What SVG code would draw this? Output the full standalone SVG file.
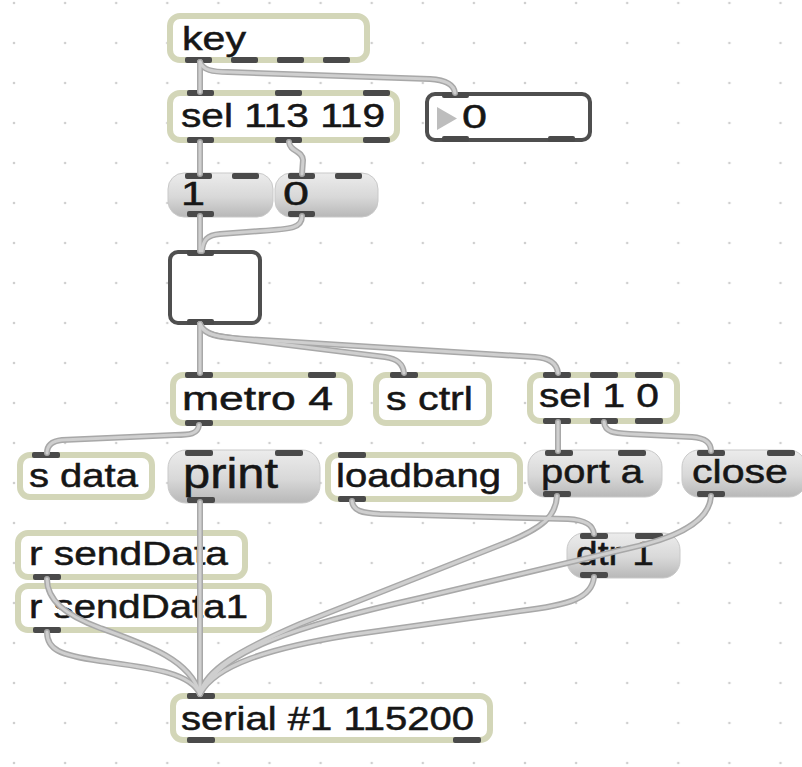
<svg xmlns="http://www.w3.org/2000/svg" xmlns:xlink="http://www.w3.org/1999/xlink" width="802" height="767" viewBox="0 0 802 767">
<style>
.obj{fill:#ffffff;stroke:#d3d6b8;stroke-width:6}
.msg{fill:url(#mg);stroke:#c9c9c9;stroke-width:1}
.ui{fill:#ffffff;stroke:#4f4f4f;stroke-width:4}
.io{fill:#4a4a4a}
.t{font-family:"Liberation Sans",Arial,sans-serif;font-size:33px;fill:#161616;stroke:#161616;stroke-width:0.5}
.co{fill:none;stroke:#a8a8a8;stroke-width:6;stroke-linecap:round}
.ci{fill:none;stroke:#cfcfcf;stroke-width:3;stroke-linecap:round}
</style>
<defs>
<linearGradient id="mg" x1="0" y1="0" x2="0" y2="1">
<stop offset="0" stop-color="#ececec"/>
<stop offset="0.55" stop-color="#d8d8d8"/>
<stop offset="1" stop-color="#b8b8b8"/>
</linearGradient>
<pattern id="grid" patternUnits="userSpaceOnUse" x="-11.55" y="-17" width="51.1" height="40">
<circle cx="25.55" cy="20" r="1.3" fill="#cfcfcf"/>
</pattern>
<path id="c1" d="M200,62 L200,92"/>
<path id="c2" d="M200,62 C203,70 212,72 228,72 L430,79 C447,80 454,85 455,93"/>
<path id="c3" d="M200,142 L200,174"/>
<path id="c4" d="M289,142 C290,152 302,150 303,160 L302,174"/>
<path id="c5" d="M200,216 L200,251"/>
<path id="c6" d="M302,216 C302,228 292,229 260,231 L220,234 C207,235 203,240 202,251"/>
<path id="c7" d="M200,324 L200,373"/>
<path id="c8" d="M200,324 C203,333 212,336 232,338 L385,357 C398,359 403,364 404,373"/>
<path id="c9" d="M200,324 C205,335 218,337 245,339 L535,357 C550,358 557,364 558,373"/>
<path id="c10" d="M199,425 C198,434 190,435 175,435 L62,440 C52,441 47,445 47,453"/>
<path id="c11" d="M200,502 L200,694"/>
<path id="c12" d="M558,422 L558,451"/>
<path id="c13" d="M604,422 C605,432 613,433 630,434 L692,437 C706,438 711,443 711,451"/>
<path id="c14" d="M352,501 C353,511 362,513 380,514 L568,519 C586,520 593,525 594,534"/>
<path id="c15" d="M557,496 C556,515 545,528 500,545 L300,624 C240,650 205,670 200,694"/>
<path id="c16" d="M711,496 C710,515 690,535 630,548 L420,598 C300,625 220,650 200,694"/>
<path id="c17" d="M594,577 C592,598 570,605 520,611 L350,635 C270,648 215,665 200,694"/>
<path id="c18" d="M47,579 C47,600 65,615 100,628 C150,646 190,660 200,694"/>
<path id="c19" d="M47,632 C47,650 60,655 100,661 C150,668 190,672 200,694"/>
</defs>
<rect x="0" y="0" width="802" height="767" fill="#ffffff"/>
<rect x="0" y="0" width="802" height="767" fill="url(#grid)"/>

<g id="key">
<rect class="obj" x="170" y="16" width="197" height="44" rx="10"/>
<rect class="io" x="185" y="57" width="27" height="6" rx="2"/>
<rect class="io" x="231" y="57" width="27" height="6" rx="2"/>
<rect class="io" x="277" y="57" width="27" height="6" rx="2"/>
<rect class="io" x="323" y="57" width="27" height="6" rx="2"/>
<text class="t" x="182" y="50" textLength="64" lengthAdjust="spacingAndGlyphs">key</text>
</g>
<g id="sel113119">
<rect class="obj" x="170" y="93" width="227" height="47" rx="10"/>
<rect class="io" x="187" y="90" width="27" height="6" rx="2"/>
<rect class="io" x="275" y="90" width="27" height="6" rx="2"/>
<rect class="io" x="363" y="90" width="27" height="6" rx="2"/>
<rect class="io" x="187" y="137" width="27" height="6" rx="2"/>
<rect class="io" x="275" y="137" width="27" height="6" rx="2"/>
<rect class="io" x="363" y="137" width="27" height="6" rx="2"/>
<text class="t" x="181" y="127" textLength="204" lengthAdjust="spacingAndGlyphs">sel 113 119</text>
</g>
<g id="number">
<rect class="ui" x="427" y="94" width="163" height="46" rx="8"/>
<rect class="io" x="442" y="92" width="27" height="6" rx="2"/>
<rect class="io" x="442" y="136" width="27" height="6" rx="2"/>
<rect class="io" x="548" y="136" width="27" height="6" rx="2"/>
<polygon points="437,107 457,118.5 437,130" fill="#bdbdbd"/>
<text class="t" x="462" y="128" textLength="25" lengthAdjust="spacingAndGlyphs">0</text>
</g>
<g id="msg1">
<rect class="msg" x="168" y="173" width="105" height="44" rx="16"/>
<rect class="io" x="185" y="173" width="27" height="6" rx="2"/>
<rect class="io" x="232" y="173" width="27" height="6" rx="2"/>
<rect class="io" x="187" y="211" width="27" height="6" rx="2"/>
<text class="t" x="181" y="205" textLength="24" lengthAdjust="spacingAndGlyphs">1</text>
</g>
<g id="msg0">
<rect class="msg" x="275" y="173" width="103" height="44" rx="16"/>
<rect class="io" x="288" y="173" width="27" height="6" rx="2"/>
<rect class="io" x="335" y="173" width="27" height="6" rx="2"/>
<rect class="io" x="288" y="211" width="27" height="6" rx="2"/>
<text class="t" x="283" y="205" textLength="26" lengthAdjust="spacingAndGlyphs">0</text>
</g>
<g id="toggle">
<rect class="ui" x="170" y="252" width="90" height="71" rx="8"/>
<rect class="io" x="187" y="250" width="27" height="6" rx="2"/>
<rect class="io" x="187" y="319" width="27" height="6" rx="2"/>
</g>
<g id="metro">
<rect class="obj" x="173" y="375" width="177" height="48" rx="10"/>
<rect class="io" x="185" y="372" width="28" height="6" rx="2"/>
<rect class="io" x="308" y="372" width="28" height="6" rx="2"/>
<rect class="io" x="185" y="420" width="28" height="6" rx="2"/>
<text class="t" x="182" y="410" textLength="151" lengthAdjust="spacingAndGlyphs">metro 4</text>
</g>
<g id="sctrl">
<rect class="obj" x="376" y="375" width="113" height="48" rx="10"/>
<rect class="io" x="390" y="372" width="28" height="6" rx="2"/>
<text class="t" x="386" y="410" textLength="87" lengthAdjust="spacingAndGlyphs">s ctrl</text>
</g>
<g id="sel10">
<rect class="obj" x="530" y="375" width="147" height="46" rx="10"/>
<rect class="io" x="543" y="372" width="28" height="6" rx="2"/>
<rect class="io" x="590" y="372" width="28" height="6" rx="2"/>
<rect class="io" x="635" y="372" width="28" height="6" rx="2"/>
<rect class="io" x="543" y="418" width="28" height="6" rx="2"/>
<rect class="io" x="590" y="418" width="28" height="6" rx="2"/>
<rect class="io" x="635" y="418" width="28" height="6" rx="2"/>
<text class="t" x="539" y="407" textLength="120" lengthAdjust="spacingAndGlyphs">sel 1 0</text>
</g>
<g id="sdata">
<rect class="obj" x="20" y="455" width="132" height="42" rx="10"/>
<rect class="io" x="32" y="452" width="28" height="6" rx="2"/>
<text class="t" x="29" y="487" textLength="109" lengthAdjust="spacingAndGlyphs">s data</text>
</g>
<g id="print">
<rect class="msg" x="168" y="450" width="152" height="53" rx="18"/>
<rect class="io" x="185" y="450" width="28" height="6" rx="2"/>
<rect class="io" x="275" y="450" width="28" height="6" rx="2"/>
<rect class="io" x="187" y="497" width="28" height="6" rx="2"/>
<text class="t" x="183" y="488" style="font-size:42px" textLength="95" lengthAdjust="spacingAndGlyphs">print</text>
</g>
<g id="loadbang">
<rect class="obj" x="328" y="455" width="192" height="44" rx="10"/>
<rect class="io" x="338" y="452" width="28" height="6" rx="2"/>
<rect class="io" x="338" y="496" width="28" height="6" rx="2"/>
<text class="t" x="336" y="487" textLength="165" lengthAdjust="spacingAndGlyphs">loadbang</text>
</g>
<g id="porta">
<rect class="msg" x="528" y="450" width="134" height="47" rx="17"/>
<rect class="io" x="545" y="450" width="28" height="6" rx="2"/>
<rect class="io" x="618" y="450" width="28" height="6" rx="2"/>
<rect class="io" x="543" y="491" width="28" height="6" rx="2"/>
<text class="t" x="541" y="483" textLength="102" lengthAdjust="spacingAndGlyphs">port a</text>
</g>
<g id="close">
<rect class="msg" x="682" y="450" width="124" height="47" rx="17"/>
<rect class="io" x="697" y="450" width="28" height="6" rx="2"/>
<rect class="io" x="767" y="450" width="28" height="6" rx="2"/>
<rect class="io" x="697" y="491" width="28" height="6" rx="2"/>
<text class="t" x="692" y="483" textLength="96" lengthAdjust="spacingAndGlyphs">close</text>
</g>
<g id="rsendData">
<rect class="obj" x="18" y="533" width="227" height="44" rx="10"/>
<rect class="io" x="33" y="574" width="28" height="6" rx="2"/>
<text class="t" x="29" y="565" textLength="199" lengthAdjust="spacingAndGlyphs">r sendData</text>
</g>
<g id="rsendData1">
<rect class="obj" x="18" y="586" width="251" height="44" rx="10"/>
<rect class="io" x="33" y="627" width="28" height="6" rx="2"/>
<text class="t" x="29" y="618" textLength="219" lengthAdjust="spacingAndGlyphs">r sendData1</text>
</g>
<g id="dtr1">
<rect class="msg" x="567" y="533" width="113" height="45" rx="17"/>
<rect class="io" x="580" y="533" width="28" height="6" rx="2"/>
<rect class="io" x="635" y="533" width="28" height="6" rx="2"/>
<rect class="io" x="580" y="572" width="28" height="6" rx="2"/>
<text class="t" x="576" y="565" textLength="78" lengthAdjust="spacingAndGlyphs">dtr 1</text>
</g>
<g id="serial">
<rect class="obj" x="173" y="696" width="317" height="44" rx="10"/>
<rect class="io" x="187" y="693" width="28" height="6" rx="2"/>
<rect class="io" x="187" y="737" width="28" height="6" rx="2"/>
<rect class="io" x="453" y="737" width="28" height="6" rx="2"/>
<text class="t" x="181" y="730" textLength="293" lengthAdjust="spacingAndGlyphs">serial #1 115200</text>
</g>

<g id="connectors">
<use xlink:href="#c1" class="co"/><use xlink:href="#c2" class="co"/><use xlink:href="#c3" class="co"/><use xlink:href="#c4" class="co"/>
<use xlink:href="#c5" class="co"/><use xlink:href="#c6" class="co"/><use xlink:href="#c7" class="co"/><use xlink:href="#c8" class="co"/>
<use xlink:href="#c9" class="co"/><use xlink:href="#c10" class="co"/><use xlink:href="#c11" class="co"/><use xlink:href="#c12" class="co"/>
<use xlink:href="#c13" class="co"/><use xlink:href="#c14" class="co"/><use xlink:href="#c15" class="co"/><use xlink:href="#c16" class="co"/>
<use xlink:href="#c17" class="co"/><use xlink:href="#c18" class="co"/><use xlink:href="#c19" class="co"/>
<use xlink:href="#c1" class="ci"/><use xlink:href="#c2" class="ci"/><use xlink:href="#c3" class="ci"/><use xlink:href="#c4" class="ci"/>
<use xlink:href="#c5" class="ci"/><use xlink:href="#c6" class="ci"/><use xlink:href="#c7" class="ci"/><use xlink:href="#c8" class="ci"/>
<use xlink:href="#c9" class="ci"/><use xlink:href="#c10" class="ci"/><use xlink:href="#c11" class="ci"/><use xlink:href="#c12" class="ci"/>
<use xlink:href="#c13" class="ci"/><use xlink:href="#c14" class="ci"/><use xlink:href="#c15" class="ci"/><use xlink:href="#c16" class="ci"/>
<use xlink:href="#c17" class="ci"/><use xlink:href="#c18" class="ci"/><use xlink:href="#c19" class="ci"/>
</g>
</svg>
